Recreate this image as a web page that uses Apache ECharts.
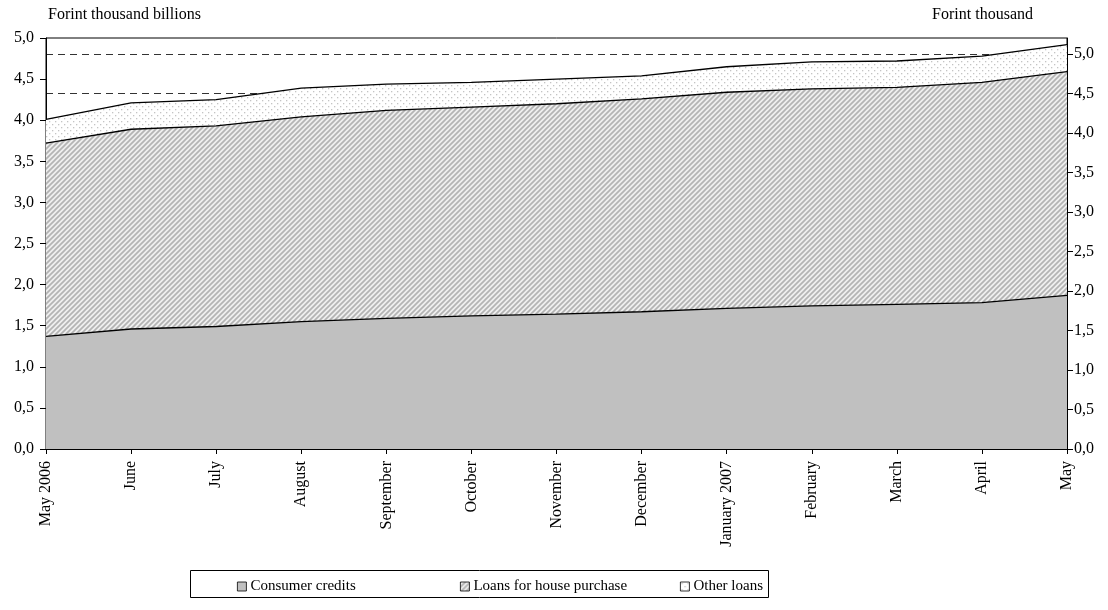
<!DOCTYPE html>
<html>
<head>
<meta charset="utf-8">
<script src="https://cdn.jsdelivr.net/npm/echarts@6/dist/echarts.min.js"></script>
<style>
  html, body { margin: 0; padding: 0; background: #fff; }
  #chart { width: 1108px; height: 610px; }
</style>
</head>
<body>
<div id="chart"></div>
<script>
// Monthly household loan stock, Forint thousand billions
const months = ['May 2006', 'June', 'July', 'August', 'September', 'October', 'November',
  'December', 'January 2007', 'February', 'March', 'April', 'May'];
const consumerCredits = [1.37, 1.46, 1.49, 1.55, 1.59, 1.62, 1.64, 1.67, 1.71, 1.74, 1.76, 1.78, 1.87];
const housePurchase = [2.35, 2.43, 2.44, 2.49, 2.53, 2.54, 2.56, 2.59, 2.63, 2.64, 2.64, 2.68, 2.72];
const otherLoans = [0.29, 0.32, 0.32, 0.35, 0.32, 0.30, 0.30, 0.28, 0.31, 0.33, 0.32, 0.32, 0.33];
const seriesNames = ['Consumer credits', 'Loans for house purchase', 'Other loans'];
const leftTicks = [0, 0.5, 1, 1.5, 2, 2.5, 3, 3.5, 4, 4.5, 5];
const rightTicks = [0, 0.5, 1, 1.5, 2, 2.5, 3, 3.5, 4, 4.5, 5];

const FONT = 'Liberation Serif';
const AXIS_FS = 16;
const LEGEND_FS = 15;

// Fill patterns
function hatchPattern() {
  const s = 5;
  const c = document.createElement('canvas');
  c.width = s; c.height = s;
  const g = c.getContext('2d');
  g.fillStyle = '#eeeeee';
  g.fillRect(0, 0, s, s);
  g.strokeStyle = '#b3b3b3';
  g.lineWidth = 1.7;
  g.beginPath();
  g.moveTo(0, s); g.lineTo(s, 0);
  g.moveTo(-1, 1); g.lineTo(1, -1);
  g.moveTo(s - 1, s + 1); g.lineTo(s + 1, s - 1);
  g.stroke();
  return { image: c, repeat: 'repeat' };
}
function dotPattern() {
  const c = document.createElement('canvas');
  c.width = 6; c.height = 6;
  const g = c.getContext('2d');
  g.fillStyle = '#ffffff';
  g.fillRect(0, 0, 6, 6);
  g.fillStyle = '#c4c4c4';
  g.fillRect(1, 1, 1.3, 1.3);
  g.fillRect(4, 4, 1.3, 1.3);
  return { image: c, repeat: 'repeat' };
}

const fills = ['#c0c0c0', hatchPattern(), dotPattern()];
const values = [consumerCredits, housePurchase, otherLoans];
const fmt = v => v.toFixed(1).replace('.', ',');

const chart = echarts.init(document.getElementById('chart'), null, { renderer: 'canvas' });

const legendLefts = [232, 455, 675];

chart.setOption({
  animation: false,
  backgroundColor: '#fff',
  textStyle: { fontFamily: FONT, fontSize: AXIS_FS, color: '#000' },
  grid: { left: 46, right: 41, top: 38, bottom: 161, show: true, borderColor: '#000', borderWidth: 1, backgroundColor: 'transparent' },
  xAxis: {
    type: 'category',
    data: months,
    boundaryGap: false,
    axisLine: { lineStyle: { color: '#000', width: 1 } },
    axisTick: { show: true, length: 5, alignWithLabel: true, lineStyle: { color: '#000' } },
    axisLabel: { rotate: 90, margin: 12, interval: 0, fontFamily: FONT, fontSize: AXIS_FS, color: '#000' },
    splitLine: { show: false }
  },
  yAxis: [
    {
      type: 'value', min: 0, max: 5, interval: 0.5, position: 'left',
      axisLine: { show: true, lineStyle: { color: '#000' } },
      axisTick: { show: true, length: 6, lineStyle: { color: '#000' }, customValues: leftTicks },
      axisLabel: { margin: 12, fontFamily: FONT, fontSize: AXIS_FS, color: '#000', formatter: fmt, customValues: leftTicks },
      splitLine: { show: false }
    },
    {
      type: 'value', min: 0, max: 5.2, interval: 0.5, position: 'right',
      axisLine: { show: true, lineStyle: { color: '#000' } },
      axisTick: { show: true, length: 6, lineStyle: { color: '#000' }, customValues: rightTicks },
      axisLabel: { margin: 7, fontFamily: FONT, fontSize: AXIS_FS, color: '#000', formatter: fmt, customValues: rightTicks },
      splitLine: { show: true, lineStyle: { color: '#333', type: [7, 5], width: 1 } }
    }
  ],
  legend: seriesNames.map((name, i) => ({
    left: legendLefts[i], top: 574,
    itemWidth: 9, itemHeight: 9, itemGap: 0,
    textStyle: { fontFamily: FONT, fontSize: LEGEND_FS, color: '#000', padding: [0, 0, 0, -1] },
    data: [{ name: name, icon: 'rect', itemStyle: { color: fills[i], borderColor: '#000', borderWidth: 0.8 } }]
  })),
  graphic: [
    { type: 'rect', shape: { x: 190.5, y: 570.5, width: 578, height: 27 }, style: { fill: 'none', stroke: '#000', lineWidth: 1 }, z: -1 },
    { type: 'text', left: 48, top: 7, style: { text: 'Forint thousand billions', font: AXIS_FS + 'px "Liberation Serif"', fill: '#000' } },
    { type: 'text', right: 75, top: 7, style: { text: 'Forint thousand', font: AXIS_FS + 'px "Liberation Serif"', fill: '#000' } }
  ],
  series: seriesNames.map((name, i) => ({
    name: name,
    type: 'line',
    stack: 'loans',
    yAxisIndex: 0,
    data: values[i],
    symbol: 'none',
    lineStyle: { color: '#000', width: 1.3 },
    itemStyle: { color: fills[i] },
    areaStyle: { color: fills[i], opacity: 1 },
    emphasis: { disabled: true }
  }))
});
</script>
</body>
</html>
